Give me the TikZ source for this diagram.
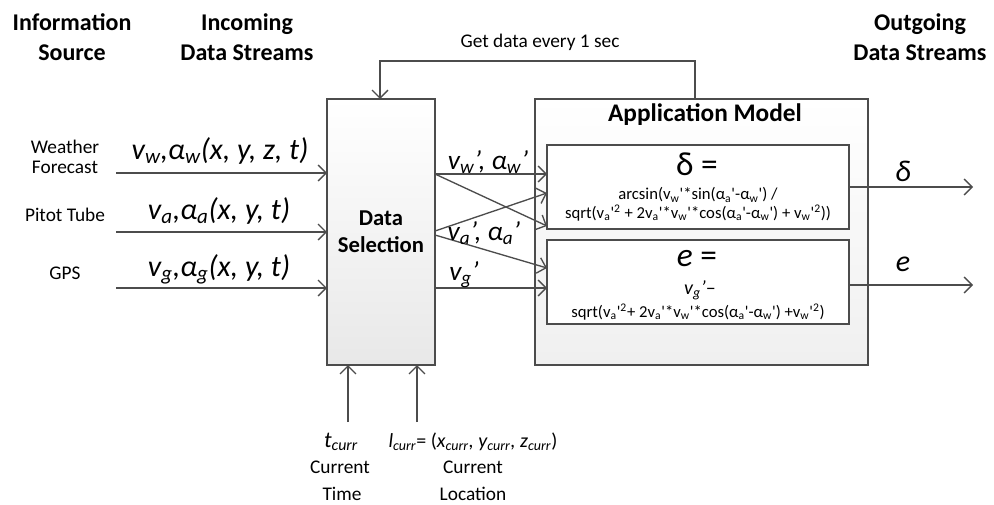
\documentclass[tikz,border=0pt]{standalone}
\usepackage{fontspec}
\setmainfont{Carlito}
\usetikzlibrary{arrows.meta}

\newcommand{\tq}{\textquotesingle}
\tikzset{
  box/.style={draw=black!70, line width=1pt, inner sep=0pt, outer sep=0pt},
  ln/.style={draw=black!70, line width=1pt},
  arr/.style={ln, -{Straight Barb[length=6pt,width=12pt,line width=1pt]}},
  head/.style={font=\fontsize{18}{22.5}\selectfont\bfseries, align=center},
  lbl/.style={font=\fontsize{14.5}{15}\selectfont, align=center},
  strm/.style={font=\fontsize{22.5}{24}\selectfont\itshape},
  sel/.style={font=\fontsize{20.5}{22}\selectfont\itshape},
  frm/.style={font=\fontsize{12.5}{14}\selectfont},
}

\begin{document}
\begin{tikzpicture}[x=0.75pt,y=0.75pt,yscale=-1,xscale=1]
\useasboundingbox (0,0) rectangle (994,504);
% headers
\draw (72,37) node [head] (hsrc) {Information\\Source};
\draw (247,37) node [head] (hin) {Incoming\\Data Streams};
\draw (920,37) node [head] (hout) {Outgoing\\Data Streams};
% boxes
\draw (381,232) node [box, top color=white, bottom color=black!9, minimum width=81pt, minimum height=199.5pt] (ds) {};
\draw (381,232) node [font=\fontsize{17}{20}\selectfont\bfseries, align=center] (dstxt) {Data\\Selection};
\draw (701.5,232) node [box, top color=white, bottom color=black!6, minimum width=249.75pt, minimum height=199.5pt] (app) {};
\draw (705,115) node [font=\fontsize{19}{20}\selectfont\bfseries] (apptxt) {Application Model};
\draw (698,187) node [box, fill=white, minimum width=226.5pt, minimum height=63pt] (delta) {};
\draw (698,282) node [box, fill=white, minimum width=226.5pt, minimum height=63pt] (ebox) {};
% formulas
\draw (697,164) node [font=\fontsize{25}{26}\selectfont] (dtit) {δ =};
\draw (698,195) node [frm] (d1) {arcsin(v\textsubscript{w}\tq*sin(α\textsubscript{a}\tq-α\textsubscript{w}\tq) /};
\draw (698,213) node [frm] (d2) {sqrt(v\textsubscript{a}\tq\textsuperscript{2} + 2v\textsubscript{a}\tq*v\textsubscript{w}\tq*cos(α\textsubscript{a}\tq-α\textsubscript{w}\tq) + v\textsubscript{w}\tq\textsuperscript{2}))};
\draw (697,259) node [font=\fontsize{25}{26}\selectfont] (etit) {\textit{e} =};
\draw (700,290) node [font=\fontsize{15}{16}\selectfont] (e1) {\textit{v\textsubscript{g}'}–};
\draw (698,312) node [frm] (e2) {sqrt(v\textsubscript{a}\tq\textsuperscript{2}+ 2v\textsubscript{a}\tq*v\textsubscript{w}\tq*cos(α\textsubscript{a}\tq-α\textsubscript{w}\tq) +v\textsubscript{w}\tq\textsuperscript{2})};
% sources
\draw (65,157) node [lbl] (wf) {Weather\\Forecast};
\draw (65,215) node [lbl] (pt) {Pitot Tube};
\draw (65,273) node [lbl] (gps) {GPS};
\coordinate (wIn) at (116,173);
\coordinate (pIn) at (116,232);
\coordinate (gIn) at (116,288);
\draw [arr] (wIn) -- (wIn -| ds.west);
\draw [arr] (pIn) -- (pIn -| ds.west);
\draw [arr] (gIn) -- (gIn -| ds.west);
\draw (220,151) node [strm] (sw) {v\textsubscript{w},α\textsubscript{w}(x, y, z, t)};
\draw (219,211) node [strm] (sa) {v\textsubscript{a},α\textsubscript{a}(x, y, t)};
\draw (219,269) node [strm] (sg) {v\textsubscript{g},α\textsubscript{g}(x, y, t)};
% selected streams
\draw [arr] (ds.east |- 0,174) -- (delta.west |- 0,174);
\draw [arr] (ds.east |- 0,174) -- (delta.west |- 0,226);
\draw [arr] (ds.east |- 0,231) -- (delta.west |- 0,193);
\draw [arr] (ds.east |- 0,235) -- (ebox.west |- 0,268);
\draw [arr] (ds.east |- 0,288) -- (ebox.west |- 0,288);
\draw (488,162) node [sel] (ow) {v\textsubscript{w}', α\textsubscript{w}'};
\draw (484,233) node [sel] (oa) {v\textsubscript{a}', α\textsubscript{a}'};
\draw (464,275) node [sel] (og) {v\textsubscript{g}'};
% outputs
\coordinate (dOut) at (973,187);
\coordinate (eOut) at (973,285);
\draw [arr] (delta.east |- dOut) -- (dOut);
\draw [arr] (ebox.east |- eOut) -- (eOut);
\draw (903,171) node [strm] (od) {δ};
\draw (903,264) node [strm] (oe) {e};
% feedback
\coordinate (fbR) at (695,61);
\coordinate (fbL) at (380,61);
\draw [arr] (app.north -| fbR) -- (fbR) -- (fbL) -- (ds.north -| fbL);
\draw (540,42) node [lbl] (fbtxt) {Get data every 1 sec};
% time and location
\coordinate (tIn) at (348,422);
\coordinate (lIn) at (417,422);
\draw [arr] (tIn) -- (ds.south -| tIn);
\draw [arr] (lIn) -- (ds.south -| lIn);
\draw (341,442) node [strm, font=\fontsize{17}{20}\selectfont\itshape] (tc) {t\textsubscript{curr}};
\draw (340,467) node [lbl] (tc1) {Current};
\draw (342,494) node [lbl] (tc2) {Time};
\draw (473,442) node [font=\fontsize{15}{18}\selectfont] (lc) {\textit{l\textsubscript{curr}}= (\textit{x\textsubscript{curr}, y\textsubscript{curr}, z\textsubscript{curr}})};
\draw (473,467) node [lbl] (lc1) {Current};
\draw (473,494) node [lbl] (lc2) {Location};
\end{tikzpicture}
\end{document}
